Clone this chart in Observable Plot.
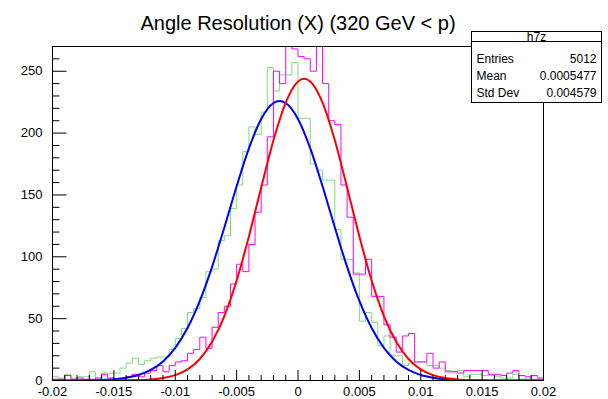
<!DOCTYPE html>
<html><head><meta charset="utf-8">
<script src="https://cdn.jsdelivr.net/npm/d3@7"></script>
<script src="https://cdn.jsdelivr.net/npm/@observablehq/plot@0.6"></script>
<style>body{margin:0;background:#fff} svg{display:block}</style>
</head><body><div id="chart"></div>
<script>
const title = "Angle Resolution (X) (320 GeV < p)";
const xMin = -0.02;
const binWidth = 0.0005;
const greenCounts = [3,2,5,2,3,3,7,2,6,6,6,10,14,18,13,16,18,19,19,25,34,42,55,58,67,88,90,113,117,139,158,185,205,199,217,253,234,247,247,257,212,212,175,170,162,162,122,98,98,87,48,55,47,28,36,20,20,12,14,15,15,12,12,10,8,7,8,3,5,5,4,4,3,2,2,5,1,2,1,1];
const magentaCounts = [1,1,4,1,2,1,1,2,5,2,1,1,3,5,3,6,8,12,7,12,15,16,22,25,35,26,43,55,60,78,94,88,110,136,158,197,250,240,290,268,262,260,250,285,240,210,207,158,132,86,86,98,68,68,45,35,23,36,38,15,15,22,10,15,7,7,6,8,8,8,8,5,5,4,6,8,4,3,4,2];
const blueFitX = [-0.02,-0.019,-0.018,-0.017,-0.016,-0.015,-0.014,-0.013,-0.012,-0.011,-0.01,-0.009,-0.008,-0.007,-0.006,-0.005,-0.004,-0.003,-0.002,-0.0015,-0.001,0,0.001,0.002,0.003,0.004,0.005,0.006,0.007,0.008,0.009,0.01,0.011,0.012,0.013,0.014,0.015,0.016,0.017,0.018,0.019,0.02];
const blueFitY = [0.01,0.03,0.07,0.18,0.43,1.0,2.2,4.4,8.5,15.4,26.4,42.4,64.3,91.9,123.7,157.0,187.6,211.4,224.3,226,224.3,211.4,187.6,157.0,123.7,91.9,64.3,42.4,26.4,15.4,8.5,4.4,2.2,1.0,0.43,0.18,0.07,0.03,0.01,0,0,0];
const redFitX = [-0.02,-0.019,-0.018,-0.017,-0.016,-0.015,-0.014,-0.013,-0.012,-0.011,-0.01,-0.009,-0.008,-0.007,-0.006,-0.005,-0.004,-0.003,-0.002,-0.001,0,0.0005,0.001,0.002,0.003,0.004,0.005,0.006,0.007,0.008,0.009,0.01,0.011,0.012,0.013,0.014,0.015,0.016,0.017,0.018,0.019,0.02];
const redFitY = [0,0,0,0,0.01,0.04,0.11,0.31,0.81,1.95,4.35,9.0,17.4,31.3,52.1,80.8,116.5,156.0,194.2,224.7,241.8,244,241.8,224.7,194.2,156.0,116.5,80.8,52.1,31.3,17.4,9.0,4.35,1.95,0.81,0.31,0.11,0.04,0.01,0,0,0];
const xTicks = [-0.02,-0.015,-0.01,-0.005,0,0.005,0.01,0.015,0.02];
const xTickLabels = ["-0.02","-0.015","-0.01","-0.005","0","0.005","0.01","0.015","0.02"];
const yTicks = [0,50,100,150,200,250];
const yTickLabels = ["0","50","100","150","200","250"];
const statsTitle = "h7z";
const statsNames = ["Entries","Mean","Std Dev"];
const statsValues = ["5012","0.0005477","0.004579"];

function steps(counts) {
  const pts = counts.map((c, i) => ({x: xMin + i * binWidth, y: c}));
  pts.push({x: xMin + counts.length * binWidth, y: counts[counts.length - 1]});
  return pts;
}
const pairs = (xs, ys) => xs.map((x, i) => ({x, y: ys[i]}));

const W = 608, H = 399, mL = 52, mR = 65, mT = 46, mB = 19;
const fw = W - mL - mR, fh = H - mT - mB;
const xMinor = d3.range(-20, 21).map(d => d / 1000).filter(d => !xTicks.some(t => Math.abs(t - d) < 1e-9));
const yMinor = d3.range(0, 271, 10).filter(d => d % 50 !== 0);
const font = "'Liberation Sans', Arial, Helvetica, sans-serif";

const chart = Plot.plot({
  width: W, height: H,
  marginLeft: mL, marginRight: mR, marginTop: mT, marginBottom: mB,
  x: {domain: [-0.02, 0.02]},
  y: {domain: [0, 270]},
  style: {fontFamily: font, fontSize: "13px", background: "white", color: "black"},
  marks: [
    Plot.line(steps(greenCounts), {x: "x", y: "y", curve: "step-after", stroke: "#7ddc7d", strokeWidth: 1, clip: true}),
    Plot.line(steps(magentaCounts), {x: "x", y: "y", curve: "step-after", stroke: "#ff00ff", strokeWidth: 1, clip: true}),
    Plot.line(pairs(blueFitX, blueFitY), {x: "x", y: "y", curve: "monotone-x", stroke: "#0000ff", strokeWidth: 2, clip: true}),
    Plot.line(pairs(redFitX, redFitY), {x: "x", y: "y", curve: "monotone-x", stroke: "#ff0000", strokeWidth: 2, clip: true}),
    Plot.tickX(xTicks, {x: d => d, insetTop: fh - 10, stroke: "black"}),
    Plot.tickX(xMinor, {x: d => d, insetTop: fh - 5, stroke: "black"}),
    Plot.tickY(yTicks, {y: d => d, insetRight: fw - 14.5, stroke: "black"}),
    Plot.tickY(yMinor, {y: d => d, insetRight: fw - 7.5, stroke: "black"}),
    Plot.frame({stroke: "black"}),
    Plot.axisX({ticks: xTicks, tickSize: 0, tickPadding: 6, label: null, tickFormat: d => xTickLabels[xTicks.indexOf(d)]}),
    Plot.axisY({ticks: yTicks, tickSize: 0, tickPadding: 10, label: null, tickFormat: d => yTickLabels[yTicks.indexOf(d)]}),
    Plot.text([title], {frameAnchor: "top", dy: -31, fontSize: 20, fill: "black"})
  ]
});
document.getElementById("chart").appendChild(chart);

// stats box
const svg = d3.select(chart);
const g = svg.append("g").attr("fill", "black");
const bx = 471.5, by = 31.5, bw = 130, bh = 71;
const txt = (x, y, s, anchor) => g.append("text").attr("x", x).attr("y", y)
  .attr("text-anchor", anchor)
  .style("font-family", font).style("font-size", "12px").text(s);
g.append("rect").attr("x", bx).attr("y", by).attr("width", bw).attr("height", bh).attr("fill", "white").attr("stroke", "black");
g.append("line").attr("x1", bx).attr("x2", bx + bw).attr("y1", 41.5).attr("y2", 41.5).attr("stroke", "black");
txt(bx + bw / 2, 40.5, statsTitle, "middle");
statsNames.forEach((n, i) => {
  const yy = 62.5 + i * 17;
  txt(bx + 5, yy, n, "start");
  txt(bx + bw - 5, yy, statsValues[i], "end");
});
</script></body></html>
